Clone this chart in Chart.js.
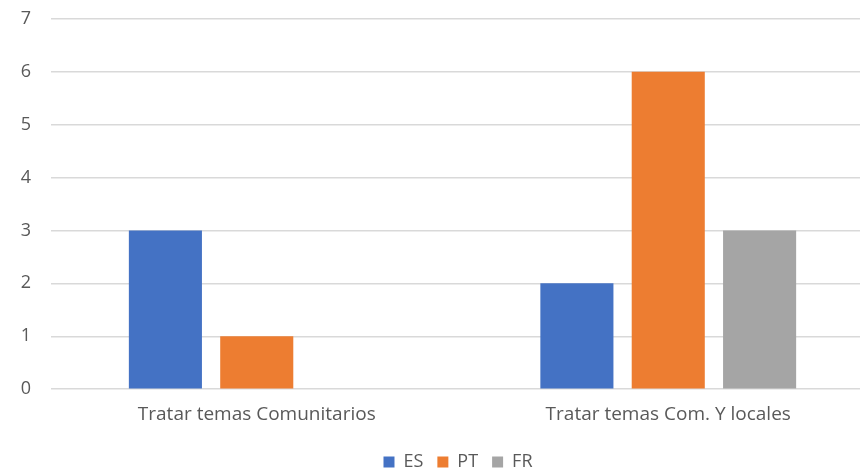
<!DOCTYPE html>
<html>
<head>
<meta charset="utf-8">
<script src="https://cdn.jsdelivr.net/npm/chart.js@4"></script>
<style>
  html, body { margin: 0; padding: 0; background: #fff; overflow: hidden; }
  #wrap { position: absolute; left: 0; top: -12px; width: 916px; height: 493px; }
</style>
</head>
<body>
<div id="wrap"><canvas id="chart"></canvas></div>
<script>
const categories = ['Tratar temas Comunitarios', 'Tratar temas Com. Y locales'];
const seriesNames = ['ES', 'PT', 'FR'];
const esValues = [3, 2];
const ptValues = [1, 6];
const frValues = [0, 3];
const colors = ['#4472C4', '#ED7D31', '#A5A5A5'];

const textColor = '#595959';
const gridColor = '#d9d9d9';

function drawBars(container) {
    return new Chart(container, {
        type: 'bar',
        data: {
            labels: categories,
            datasets: [
                { label: seriesNames[0], data: esValues, backgroundColor: colors[0] },
                { label: seriesNames[1], data: ptValues, backgroundColor: colors[1] },
                { label: seriesNames[2], data: frValues, backgroundColor: colors[2] }
            ]
        },
        options: {
            responsive: true,
            maintainAspectRatio: false,
            animation: false,
            datasets: {
                bar: { categoryPercentage: 0.666, barPercentage: 0.8 }
            },
            layout: { padding: 0 },
            scales: {
                x: {
                    grid: { display: false, drawTicks: false },
                    border: { display: false },
                    ticks: { color: textColor, font: { family: 'Open Sans', size: 19 }, padding: 13.5 }
                },
                y: {
                    min: 0,
                    max: 7,
                    grid: { color: gridColor, lineWidth: 1.5, drawTicks: false },
                    border: { display: false },
                    ticks: { stepSize: 1, color: textColor, font: { family: 'Open Sans', size: 18 }, padding: 20 },
                    afterFit: function (scale) { scale.width = 51; }
                },
                // empty right axis, only keeps the plot edge where the reference has it
                yRight: {
                    position: 'right',
                    min: 0,
                    max: 1,
                    grid: { display: false },
                    border: { display: false },
                    ticks: { display: false },
                    afterFit: function (scale) { scale.width = 42; }
                }
            },
            plugins: {
                legend: {
                    position: 'bottom',
                    labels: {
                        color: textColor,
                        font: { family: 'Open Sans', size: 18 },
                        boxWidth: 11,
                        boxHeight: 11,
                        padding: 14
                    }
                },
                tooltip: { enabled: false }
            }
        }
    });
}

drawBars(document.getElementById('chart'));
</script>
</body>
</html>
